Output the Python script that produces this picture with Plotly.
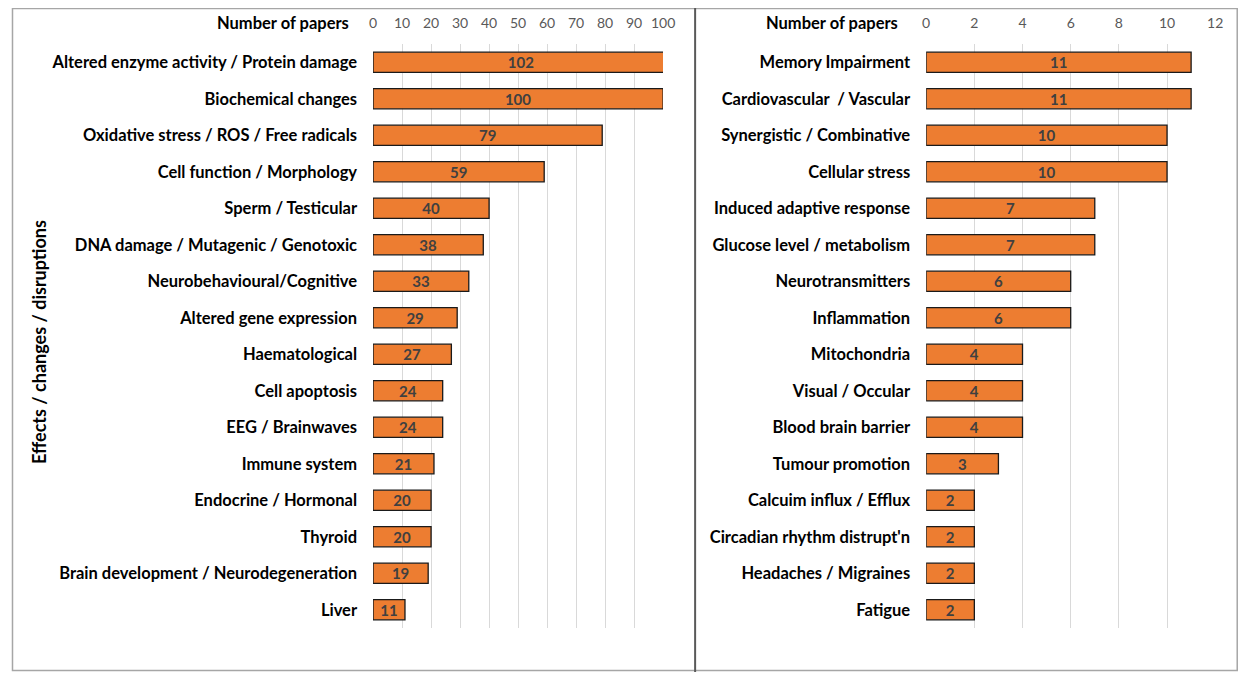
import plotly.graph_objects as go

# left panel: effects with the most papers
left_labels = [
    "Altered enzyme activity / Protein damage",
    "Biochemical changes",
    "Oxidative stress / ROS / Free radicals",
    "Cell function / Morphology",
    "Sperm / Testicular",
    "DNA damage / Mutagenic / Genotoxic",
    "Neurobehavioural/Cognitive",
    "Altered gene expression",
    "Haematological",
    "Cell apoptosis",
    "EEG / Brainwaves",
    "Immune system",
    "Endocrine / Hormonal",
    "Thyroid",
    "Brain development / Neurodegeneration",
    "Liver",
]
left_values = [102, 100, 79, 59, 40, 38, 33, 29, 27, 24, 24, 21, 20, 20, 19, 11]
left_ticks = [0, 10, 20, 30, 40, 50, 60, 70, 80, 90, 100]

# right panel: the less frequent ones
right_labels = [
    "Memory Impairment",
    "Cardiovascular  / Vascular",
    "Synergistic / Combinative",
    "Cellular stress",
    "Induced adaptive response",
    "Glucose level / metabolism",
    "Neurotransmitters",
    "Inflammation",
    "Mitochondria",
    "Visual / Occular",
    "Blood brain barrier",
    "Tumour promotion",
    "Calcuim influx / Efflux",
    "Circadian rhythm distrupt'n",
    "Headaches / Migraines",
    "Fatigue",
]
right_values = [11, 11, 10, 10, 7, 7, 6, 6, 4, 4, 4, 3, 2, 2, 2, 2]
right_ticks = [0, 2, 4, 6, 8, 10, 12]

W, H = 1248, 664
FONT = "Lato"
ORANGE = "#ED7D31"


# convert positions measured on the screenshot to paper fractions
# (the page adds a body margin, measured offsets below)
def px_x(p):
    return min(max((p - 12) / 0.987 / W, 0), 1)


def px_y(p):
    return min(max(1 - (p - 8) / H, 0), 1)


def bar_trace(labels, values, xa, ya):
    return go.Bar(
        x=values, y=labels, orientation="h",
        xaxis=xa, yaxis=ya,
        width=0.55,
        marker=dict(color=ORANGE, line=dict(color="#1a1a1a", width=1.3)),
        text=values, texttemplate="%{x}",
        textposition="inside", insidetextanchor="middle", textangle=0,
        constraintext="none",
        textfont=dict(family=FONT, size=15, color="#404040", weight="bold"),
        showlegend=False,
    )


fig = go.Figure()
fig.add_trace(bar_trace(left_labels, left_values, "x", "y"))
fig.add_trace(bar_trace(right_labels, right_values, "x2", "y2"))

ydom = [px_y(628), px_y(44)]
xcommon = dict(
    side="top", showgrid=True, gridcolor="#d9d9d9", gridwidth=1,
    zeroline=False, showline=False, ticks="", ticklabelstandoff=12,
    tickfont=dict(family=FONT, size=14, color="#595959"),
)
ycommon = dict(
    type="category", autorange="reversed", showgrid=False, zeroline=False,
    showline=False, ticks="", ticklabelstandoff=15,
    tickfont=dict(family=FONT, size=16.5, color="#000000", weight="bold"),
)

fig.update_layout(
    width=W, height=H,
    margin=dict(l=0, r=0, t=0, b=0),
    paper_bgcolor="white", plot_bgcolor="white",
    xaxis=dict(domain=[px_x(373), px_x(663)], range=[0, 100],
               tickvals=left_ticks, anchor="y", **xcommon),
    yaxis=dict(domain=ydom, anchor="x", categoryorder="array",
               categoryarray=left_labels, **ycommon),
    xaxis2=dict(domain=[px_x(926), px_x(1215)], range=[0, 12],
                tickvals=right_ticks, anchor="y2", **xcommon),
    yaxis2=dict(domain=ydom, anchor="x2", categoryorder="array",
                categoryarray=right_labels, **ycommon),
)

# axis titles written like the excel original
title_font = dict(family=FONT, size=16.5, color="#000000", weight="bold")
fig.add_annotation(x=px_x(351), y=px_y(23), xref="paper", yref="paper",
                   text="Number of papers", showarrow=False,
                   xanchor="right", yanchor="middle", font=title_font)
fig.add_annotation(x=px_x(900), y=px_y(23), xref="paper", yref="paper",
                   text="Number of papers", showarrow=False,
                   xanchor="right", yanchor="middle", font=title_font)
fig.add_annotation(x=px_x(39), y=px_y(342), xref="paper", yref="paper",
                   text="Effects / changes / disruptions", showarrow=False,
                   textangle=-90, xanchor="center", yanchor="middle",
                   font=dict(family=FONT, size=18, color="#000000", weight="bold"))

# panel frames
fig.add_shape(type="rect", xref="paper", yref="paper",
              x0=0.5 / W, x1=px_x(1237), y0=1.5 / H, y1=1 - 0.5 / H,
              line=dict(color="#a6a6a6", width=1.5))
fig.add_shape(type="line", xref="paper", yref="paper",
              x0=px_x(695), x1=px_x(695), y0=0, y1=1,
              line=dict(color="#595959", width=2))

fig.write_html("out.html")
